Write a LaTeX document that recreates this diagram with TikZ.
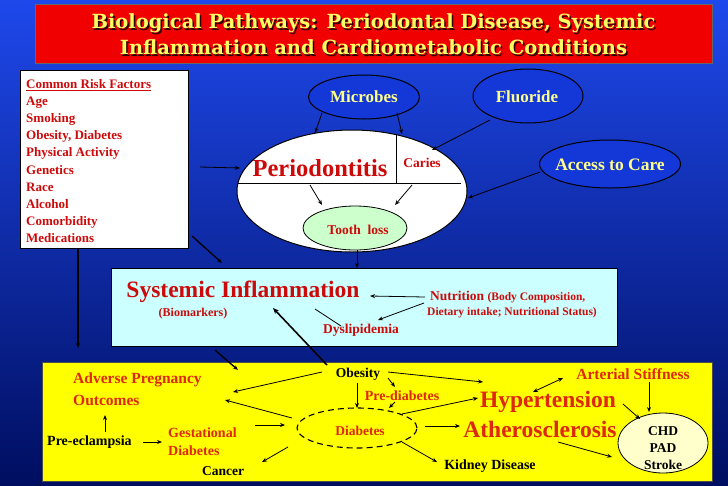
\documentclass[tikz,border=0pt]{standalone}
\usepackage{fontspec}
\setmainfont{Liberation Serif}
\newfontfamily\titlefont{DejaVu Serif}
\usetikzlibrary{shapes.geometric,arrows.meta}
\definecolor{bgtop}{RGB}{30,72,235}
\definecolor{bgbot}{RGB}{0,14,96}
\definecolor{titlered}{RGB}{240,0,0}
\definecolor{titleyel}{RGB}{255,255,100}
\definecolor{ovalyel}{RGB}{255,255,140}
\definecolor{bodyred}{RGB}{205,10,10}
\definecolor{orred}{RGB}{222,40,10}
\definecolor{sicyan}{RGB}{204,255,255}
\definecolor{ybox}{RGB}{255,255,0}
\definecolor{tgreen}{RGB}{204,255,204}
\definecolor{cream}{RGB}{255,255,204}
\definecolor{ovalblue}{RGB}{20,55,215}
\newcommand\fsz[1]{\fontsize{#1}{#1}\selectfont}
\begin{document}
\begin{tikzpicture}[x=1pt,y=-1pt,
  arr/.style={-{Stealth[length=5pt,width=4pt]},line width=0.8pt,black},
  darr/.style={{Stealth[length=5pt,width=4pt]}-{Stealth[length=5pt,width=4pt]},line width=0.8pt,black},
  tarr/.style={-{Stealth[length=6pt,width=5pt]},line width=1.6pt,black},
  txt/.style={inner sep=0pt,font=\bfseries},
  oval/.style={ellipse,draw=black,line width=1pt,fill=ovalblue,inner sep=0pt},
]
\useasboundingbox (0,0) rectangle (728,485);
\fill[top color=bgtop,bottom color=bgbot] (0,0) rectangle (728,485);

% title
\node[draw=black!60,fill=titlered,minimum width=677pt,minimum height=59pt,inner sep=0pt] (titlebox) at (373.5,33.5) {};
\node[txt,align=center,text=black!80!red,font=\titlefont\bfseries\fontsize{19.5}{26}\selectfont] (titleshadow) at (375,36)
  {Biological Pathways: Periodontal Disease, Systemic\\Inflammation and Cardiometabolic Conditions};
\node[txt,align=center,text=titleyel,font=\titlefont\bfseries\fontsize{19.5}{26}\selectfont] (title) at (373.5,34.5)
  {Biological Pathways: Periodontal Disease, Systemic\\Inflammation and Cardiometabolic Conditions};

% risk factors
\node[draw=black,fill=white,minimum width=168pt,minimum height=178pt,inner sep=0pt] (risk) at (104,159) {};
\node[txt,anchor=west,align=left,text=bodyred,font=\bfseries\fontsize{13}{17.1}\selectfont] (risktext) at (26,161)
  {\underline{Common Risk Factors}\\Age\\Smoking\\Obesity, Diabetes\\Physical Activity\\Genetics\\Race\\Alcohol\\Comorbidity\\Medications};

% ovals
\node[oval,minimum width=111pt,minimum height=44pt] (microbes) at (364,97) {};
\node[txt,text=ovalyel,font=\bfseries\fsz{17}] (microbest) at (364,97) {Microbes};
\node[oval,minimum width=110pt,minimum height=54pt] (fluoride) at (528,96) {};
\node[txt,text=ovalyel,font=\bfseries\fsz{17}] (fluoridet) at (527,97) {Fluoride};
\node[oval,minimum width=141pt,minimum height=48pt] (access) at (610,164) {};
\node[txt,text=ovalyel,font=\bfseries\fsz{17.5}] (accesst) at (610,165) {Access to Care};

% periodontitis
\node[ellipse,draw=black,line width=1pt,fill=white,minimum width=230pt,minimum height=122pt,inner sep=0pt] (perio) at (352,191) {};
\draw[line width=0.9pt] ([shift={(-114,-8)}]perio.center) -- ([shift={(109,-8)}]perio.center);
\draw[line width=0.9pt] ([shift={(44,-57)}]perio.center) -- ([shift={(44,-8)}]perio.center);
\node[txt,text=bodyred,font=\bfseries\fsz{24.5}] (periot) at (320,168) {Periodontitis};
\node[txt,text=bodyred,font=\bfseries\fsz{13.5}] (caries) at (422,163) {Caries};
\node[ellipse,draw=black,line width=0.8pt,fill=tgreen,minimum width=104pt,minimum height=44pt,inner sep=0pt] (tooth) at (355,228) {};
\node[txt,text=bodyred,font=\bfseries\fsz{13.5}] (tootht) at (358,230) {Tooth\ \ loss};

% systemic inflammation
\node[draw=black,fill=sicyan,minimum width=506pt,minimum height=78pt,inner sep=0pt] (sibox) at (364,307) {};
\node[txt,text=bodyred,font=\bfseries\fsz{23.5}] (sitext) at (243,292) {Systemic Inflammation};
\node[txt,text=bodyred,font=\bfseries\fsz{12}] (biom) at (193,314) {(Biomarkers)};
\node[txt,anchor=west,text=bodyred,font=\bfseries\fsz{13.5}] (nut1) at (430,297) {Nutrition {\fsz{11.5}(Body Composition,}};
\node[txt,anchor=west,text=bodyred,font=\bfseries\fsz{11.5}] (nut2) at (427,313) {Dietary intake; Nutritional Status)};
\node[txt,text=bodyred,font=\bfseries\fsz{13.5}] (dys) at (361,330) {Dyslipidemia};

% yellow box
\node[draw=black!70,fill=ybox,minimum width=670pt,minimum height=119pt,inner sep=0pt] (ybox) at (377,421.5) {};
\node[txt,anchor=west,text=orred,font=\bfseries\fsz{15.5}] (adv1) at (73,380) {Adverse Pregnancy};
\node[txt,anchor=west,text=orred,font=\bfseries\fsz{15.5}] (adv2) at (73,400) {Outcomes};
\node[txt,anchor=west,text=black,font=\bfseries\fsz{14}] (preec) at (47,442) {Pre-eclampsia};
\node[txt,anchor=west,text=orred,font=\bfseries\fsz{14}] (gest1) at (168,433) {Gestational};
\node[txt,anchor=west,text=orred,font=\bfseries\fsz{14}] (gest2) at (168,451) {Diabetes};
\node[txt,text=black,font=\bfseries\fsz{13.5}] (cancer) at (223,471) {Cancer};
\node[ellipse,draw=black,dashed,dash pattern=on 6pt off 4pt,line width=1.1pt,minimum width=120pt,minimum height=40pt,inner sep=0pt] (diab) at (357,428) {};
\node[txt,text=orred,font=\bfseries\fsz{13.5}] (diabt) at (360,431) {Diabetes};
\node[txt,text=black,font=\bfseries\fsz{13.5}] (obes) at (358,374) {Obesity};
\node[txt,text=orred,font=\bfseries\fsz{14}] (prediab) at (402,396) {Pre-diabetes};
\node[txt,text=orred,font=\bfseries\fsz{23.5}] (hyper) at (548,402) {Hypertension};
\node[txt,text=orred,font=\bfseries\fsz{23.5}] (ath) at (540,429) {Atherosclerosis};
\node[txt,text=black,font=\bfseries\fsz{14}] (kidney) at (490,466) {Kidney Disease};
\node[txt,text=orred,font=\bfseries\fsz{15.5}] (art) at (633,374) {Arterial Stiffness};
\node[ellipse,draw=black,line width=0.8pt,fill=cream,minimum width=90pt,minimum height=60pt,inner sep=0pt] (chd) at (663,443) {};
\node[txt,align=center,text=black,font=\bfseries\fontsize{13.5}{17}\selectfont] (chdt) at (663,448.5) {CHD\\PAD\\Stroke};

% connectors, top part
\draw[arr] ([shift={(96,8)}]risk.center) -- ([shift={(-112,-23)}]perio.center);
\draw[arr] ([shift={(-42,16)}]microbes.center) -- ([shift={(-37,-58)}]perio.center);
\draw[arr] ([shift={(33,16)}]microbes.center) -- ([shift={(50,-57)}]perio.center);
\draw[arr] ([shift={(-38,24)}]fluoride.center) -- ([shift={(10,-13)}]caries.center);
\draw[arr] ([shift={(-70,8)}]access.center) -- ([shift={(116,7)}]perio.center);
\draw[arr] ([shift={(-10,17)}]periot.center) -- ([shift={(-33,-23)}]tooth.center);
\draw[arr] ([shift={(-10,22)}]caries.center) -- ([shift={(40,-23)}]tooth.center);
\draw[arr] ([shift={(2,22)}]tooth.center) -- ([shift={(-7,-39)}]sibox.center);
\draw[arr,line width=1.3pt] ([shift={(88,77)}]risk.center) -- ([shift={(-142,-44)}]sibox.center);
\draw[arr,line width=1.3pt] ([shift={(-26,89)}]risk.center) -- ([shift={(-299,-73.5)}]ybox.center);

% systemic inflammation box
\draw[arr] ([shift={(-5,0)}]nut1.west) -- ([shift={(127,4)}]sitext.center);
\draw[arr] ([shift={(-6,6)}]nut1.west) -- ([shift={(17,-10)}]dys.center);
\draw[line width=0.8pt] ([shift={(72,17)}]sitext.center) -- ([shift={(-20,-4)}]dys.center);
\draw[tarr] ([shift={(-31,-9)}]obes.center) -- ([shift={(30,16)}]sitext.center);
\draw[arr,line width=1.3pt] ([shift={(-149,43)}]sibox.center) -- ([shift={(-139,-51.5)}]ybox.center);

% yellow box
\draw[arr] ([shift={(-36,-2)}]obes.center) -- ([shift={(160,12)}]adv1.west);
\draw[arr] ([shift={(-65,-10)}]diab.center) -- ([shift={(152,20)}]adv1.west);
\draw[arr] ([shift={(58,-10)}]preec.west) -- ([shift={(32,35)}]adv1.west);
\draw[arr] ([shift={(96,0)}]preec.west) -- ([shift={(-6,9)}]gest1.west);
\draw[arr] ([shift={(87,-8)}]gest1.west) -- ([shift={(-72,-3)}]diab.center);
\draw[arr] ([shift={(-69,19)}]diab.center) -- ([shift={(39,-9)}]cancer.center);
\draw[arr] ([shift={(-1,9)}]obes.center) -- ([shift={(0,-20)}]diab.center);
\draw[arr] ([shift={(30,4)}]obes.center) -- ([shift={(-7,-9)}]prediab.center);
\draw[arr] ([shift={(-7,6)}]prediab.center) -- ([shift={(32,-20)}]diab.center);
\draw[arr] ([shift={(30,-2)}]obes.center) -- ([shift={(-65,-20)}]hyper.center);
\draw[arr] ([shift={(45,-14)}]diab.center) -- ([shift={(-70,-4)}]hyper.center);
\draw[arr] ([shift={(68,-2)}]diab.center) -- ([shift={(-80,-3)}]ath.center);
\draw[arr] ([shift={(45,14)}]diab.center) -- ([shift={(-53,-4)}]kidney.center);
\draw[darr] ([shift={(-70,4)}]art.center) -- ([shift={(-15,-10)}]hyper.center);
\draw[arr] ([shift={(16,8)}]art.center) -- ([shift={(-14,-31)}]chd.center);
\draw[arr] ([shift={(75,2)}]hyper.center) -- ([shift={(-23,-24)}]chd.center);
\draw[arr] ([shift={(18,13)}]ath.center) -- ([shift={(-51,14)}]chd.center);
\end{tikzpicture}
\end{document}
